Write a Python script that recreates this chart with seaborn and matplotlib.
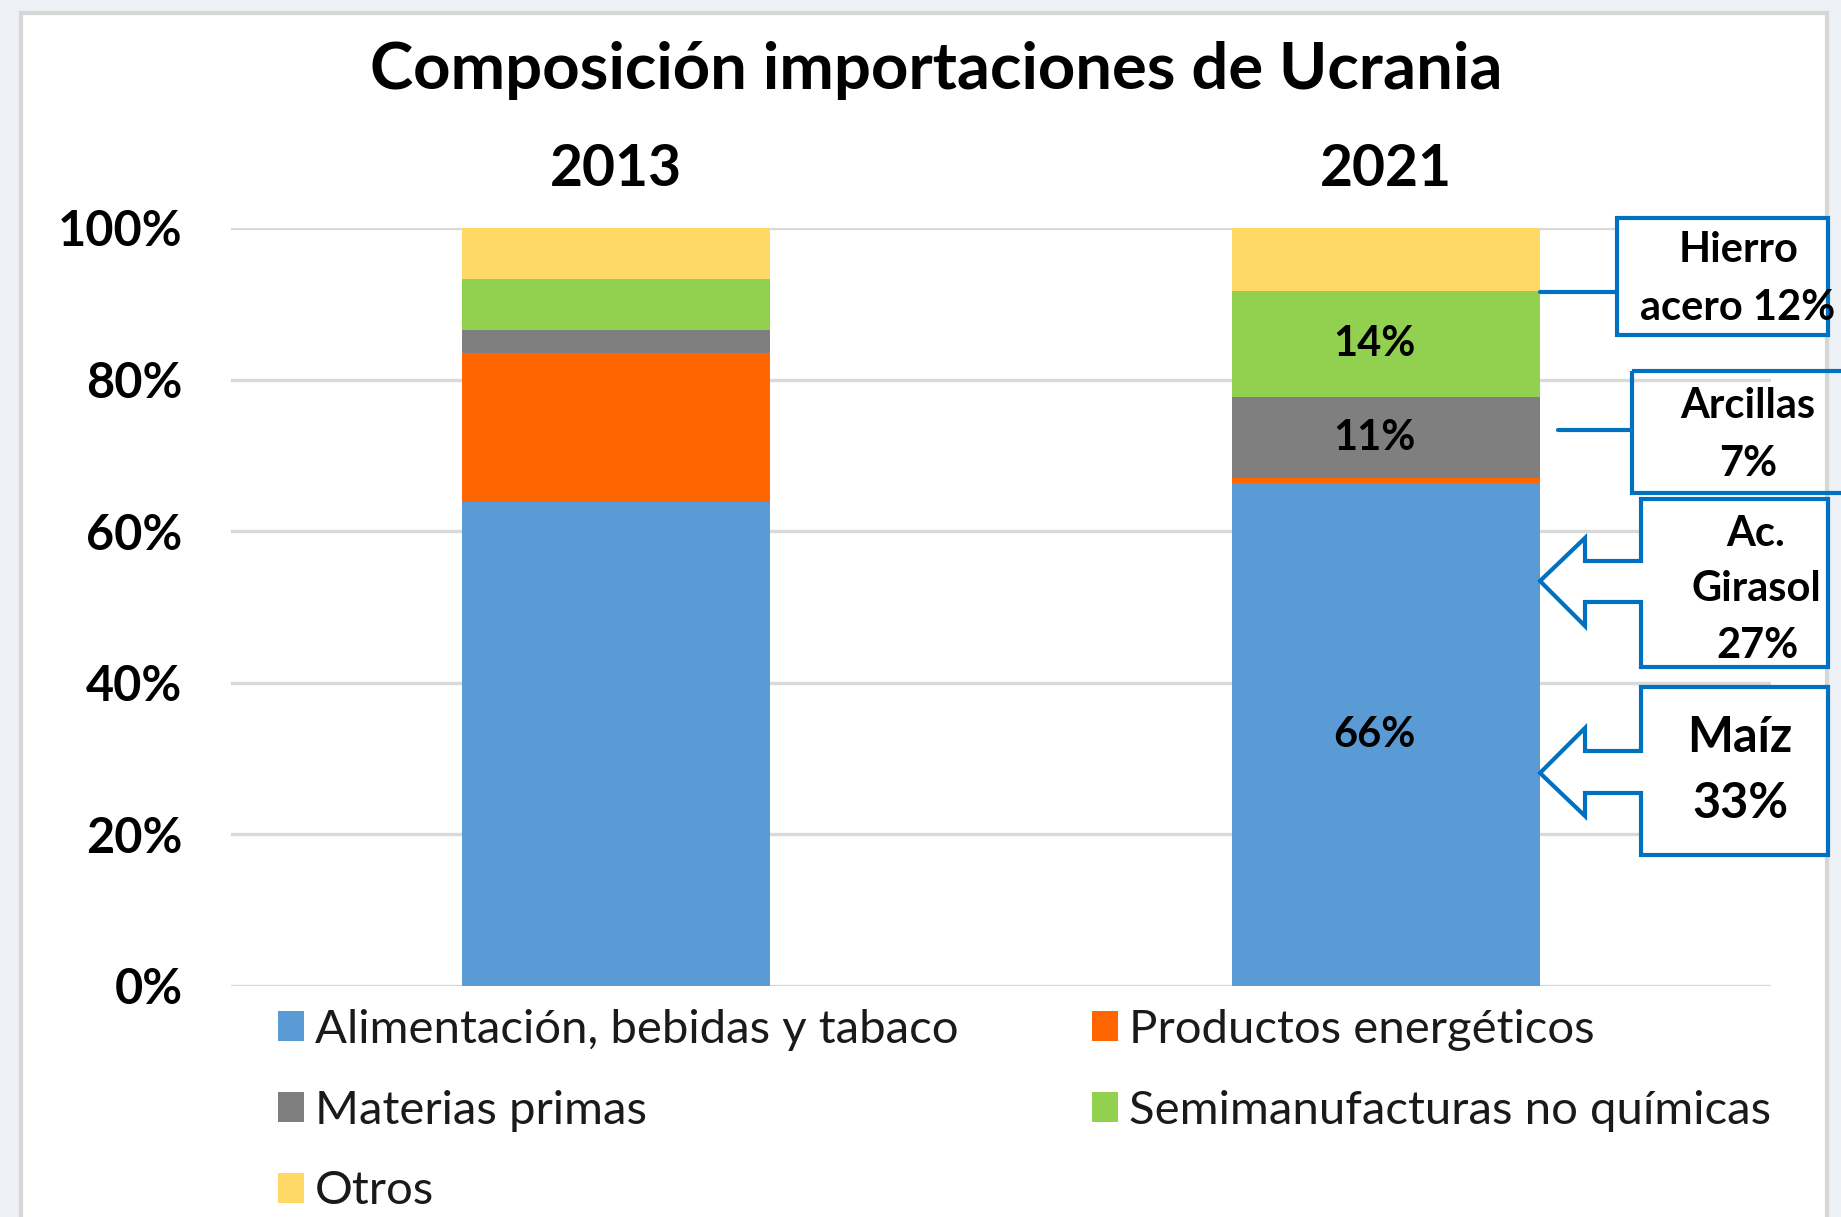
import matplotlib
matplotlib.use('Agg')
import matplotlib.pyplot as plt
import seaborn as sns
import pandas as pd
from matplotlib.patches import Rectangle, Polygon
from matplotlib.lines import Line2D

# ---------------- data ----------------
years = ['2013', '2021']
categories = ['Alimentación, bebidas y tabaco', 'Productos energéticos',
              'Materias primas', 'Semimanufacturas no químicas', 'Otros']
alimentacion = [63.8, 66.3]
energeticos = [19.7, 0.7]
materias_primas = [3.1, 10.7]
semimanufacturas = [6.7, 14.0]
otros = [6.7, 8.3]
colors = ['#5B9BD5', '#FF6600', '#7F7F7F', '#92D050', '#FFD966']
labels_2021 = ['66%', None, '11%', '14%', None]
title = 'Composición importaciones de Ucrania'
yticks = [0, 20, 40, 60, 80, 100]

series = [alimentacion, energeticos, materias_primas, semimanufacturas, otros]
rows = []
for ci, (cat, vals) in enumerate(zip(categories, series)):
    for yi, yr in enumerate(years):
        bottom = sum(series[k][yi] for k in range(ci))
        rows.append(dict(year=yr, category=cat, value=vals[yi],
                         bottom=bottom, top=bottom + vals[yi]))
df = pd.DataFrame(rows)

# ---------------- style ----------------
sns.set_theme(style='white')
plt.rcParams['font.family'] = ['Lato', 'DejaVu Sans']
plt.rcParams['text.color'] = 'black'
plt.rcParams['xtick.color'] = 'black'
plt.rcParams['ytick.color'] = 'black'

W, H = 1841, 1217
fig = plt.figure(figsize=(W / 100, H / 100), dpi=100)
fig.patch.set_facecolor('#edf1f6')

def P(x, y):
    return (x / W, 1 - y / H)

# white chart frame
frame = Rectangle(P(21, 1300), (1827 - 21) / W, (1300 - 13) / H,
                  transform=fig.transFigure, facecolor='white',
                  edgecolor='#d6d6d6', lw=3, zorder=0.2)
fig.patches.append(frame)

ax = fig.add_axes([231 / W, 1 - 986 / H, (1771 - 231) / W, (986 - 228) / H])
ax.set_zorder(1)
ax.set_facecolor('none')

# stacked bars: draw cumulative tops, tallest first
for cat, col in reversed(list(zip(categories, colors))):
    sub = df[df.category == cat]
    sns.barplot(data=sub, x='year', y='top', order=years, color=col,
                saturation=1, width=0.4, errorbar=None, ax=ax,
                linewidth=0, zorder=2)

ax.set_xlim(-0.5, 1.5)
ax.set_ylim(0, 100)
ax.set_yticks(yticks)
ax.set_yticklabels([f'{v}%' for v in yticks])
ax.yaxis.grid(True, color='#d9d9d9', lw=2.4, zorder=0)
ax.set_axisbelow(True)
for s in ax.spines.values():
    s.set_visible(False)
ax.set_xlabel('')
ax.set_ylabel('')
ax.tick_params(axis='y', length=0, pad=35, labelsize=35, labelcolor='black')
for t in ax.get_yticklabels():
    t.set_fontweight('bold')
ax.xaxis.tick_top()
ax.tick_params(axis='x', length=0, pad=23, labelsize=41, labelcolor='black')
for t in ax.get_xticklabels():
    t.set_fontweight('bold')

# data labels for 2021
sub21 = df[df.year == '2021'].reset_index(drop=True)
for i, lab in enumerate(labels_2021):
    if lab:
        r = sub21.iloc[i]
        ax.text(1 - 0.015, (r.bottom + r.top) / 2, lab, ha='center', va='center',
                fontsize=30, fontweight='bold', color='black', zorder=5)

# title
fig.text(*P(936, 70), title, ha='center', va='center', fontsize=47,
         fontweight='bold', color='black')

# legend (row-wise order as in reference)
order = [0, 2, 4, 1, 3]
handles = [Rectangle((0, 0), 1, 1, facecolor=colors[i], edgecolor='none') for i in order]
labels = [categories[i] for i in order]
fig.legend(handles, labels, ncol=2, loc='upper left',
           bbox_to_anchor=P(278, 1009), frameon=False, fontsize=34,
           handlelength=0.55, handleheight=0.6, handletextpad=0.23,
           labelspacing=0.82, columnspacing=2.84, borderpad=0, borderaxespad=0,
           labelcolor='#1a1a1a')

# ---------------- callouts ----------------
blue = '#0070C0'
lw = 3

def poly(pts, fill='white'):
    fig.patches.append(Polygon([P(*p) for p in pts], closed=True,
                               transform=fig.transFigure, facecolor=fill,
                               edgecolor=blue, lw=lw, zorder=6))

def line(p1, p2):
    fig.lines.append(Line2D([P(*p1)[0], P(*p2)[0]], [P(*p1)[1], P(*p2)[1]],
                            transform=fig.transFigure, color=blue, lw=lw, zorder=6))

def txt(x, y, s, size):
    fig.text(*P(x, y), s, ha='center', va='center', fontsize=size,
             fontweight='bold', color='black', zorder=7)

# Hierro acero
line((1540, 292), (1617, 292))
poly([(1617, 218), (1828, 218), (1828, 335), (1617, 335)])
txt(1739, 250, 'Hierro', 30)
txt(1738, 308, 'acero 12%', 30)

# Arcillas
line((1558, 430), (1632, 430))
poly([(1632, 371), (1860, 371), (1860, 493), (1632, 493)], fill='none')
txt(1748, 406, 'Arcillas', 30)
txt(1748, 464, '7%', 30)

# Ac. Girasol (arrow callout)
poly([(1641, 499), (1828, 499), (1828, 667), (1641, 667), (1641, 602),
      (1585, 602), (1585, 626), (1540, 581), (1585, 538), (1585, 561),
      (1641, 561)])
txt(1756, 534, 'Ac.', 30)
txt(1756, 589, 'Girasol', 30)
txt(1757, 646, '27%', 30)

# Maíz (arrow callout)
poly([(1641, 687), (1828, 687), (1828, 855), (1641, 855), (1641, 793),
      (1585, 793), (1585, 816), (1540, 773), (1585, 728), (1585, 751),
      (1641, 751)])
txt(1740, 737, 'Maíz', 35)
txt(1740, 803, '33%', 35)

fig.savefig('out.png', dpi=100, facecolor=fig.get_facecolor())
